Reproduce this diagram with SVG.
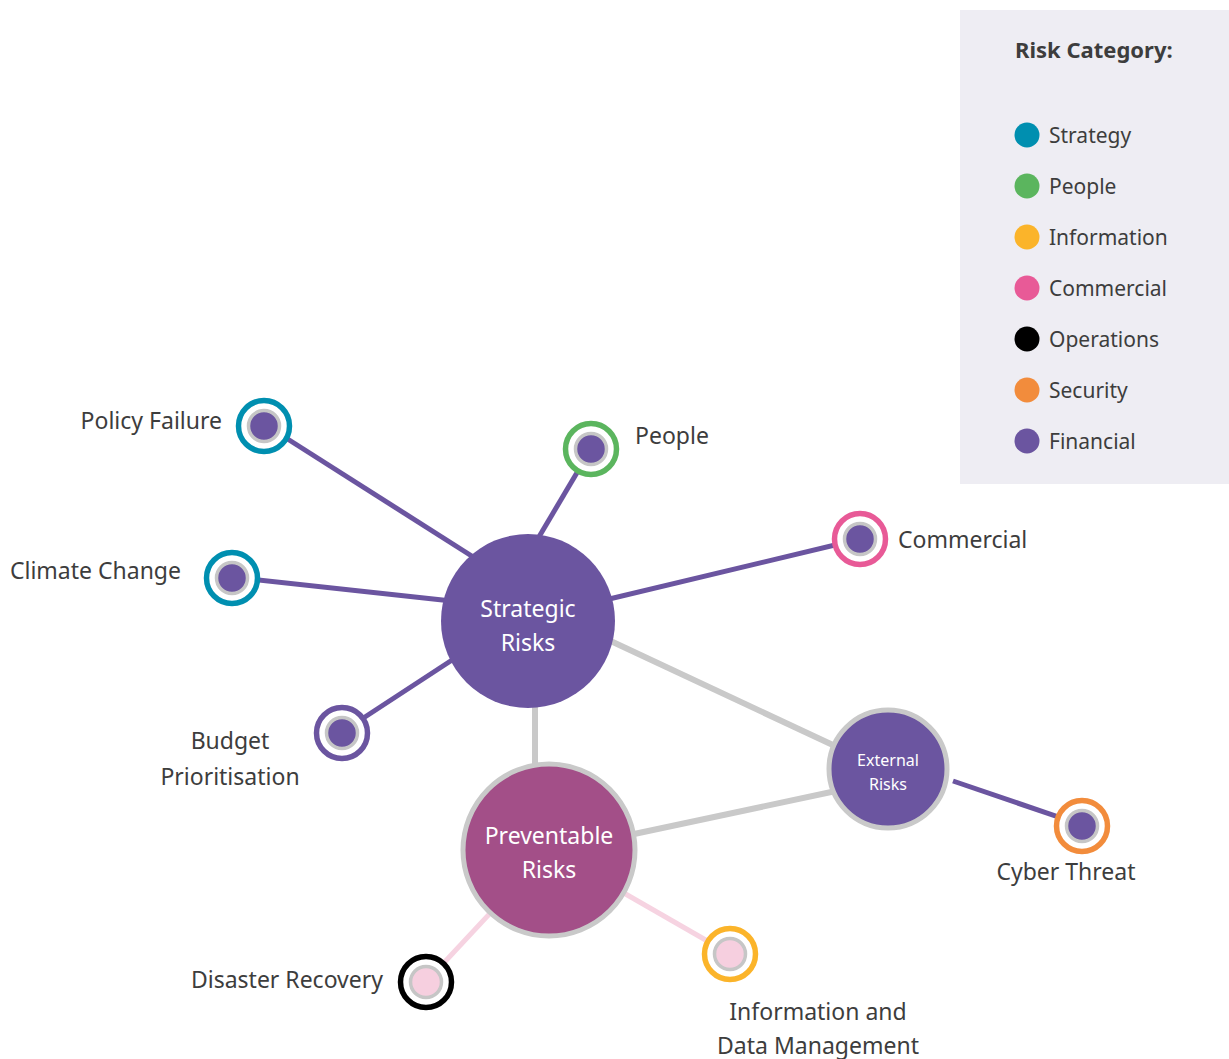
<svg xmlns="http://www.w3.org/2000/svg" width="1229" height="1059" viewBox="0 0 1229 1059">
<style>
text{font-family:"Noto Sans","Open Sans","Liberation Sans",sans-serif;fill:#3d3d3d;font-size:23px}
.lt{font-size:21px}
.w{fill:#ffffff}
.c{text-anchor:middle}
.e{text-anchor:end}
.lp{stroke:#6b55a0;stroke-width:5;stroke-linecap:butt;fill:none}
.lg{stroke:#c9c9c9;stroke-width:6;fill:none}
.lk{stroke:#f6d3e1;stroke-width:5;fill:none}
.ring{fill:#ffffff;stroke-width:5.5}
.core{stroke:#c6c6c6;stroke-width:3.5}
.fp{fill:#6b55a0}
.fk{fill:#f6cfdf}
</style>
<rect x="960" y="10" width="269" height="474" fill="#eeedf3"/>
<g id="legend">
<text x="1015" y="58" style="font-weight:bold;font-size:22px">Risk Category:</text>
<circle cx="1027" cy="135" r="12.5" fill="#008fb0"/><text class="lt" x="1049" y="143">Strategy</text>
<circle cx="1027" cy="186" r="12.5" fill="#5bb55e"/><text class="lt" x="1049" y="194">People</text>
<circle cx="1027" cy="237" r="12.5" fill="#fbb42a"/><text class="lt" x="1049" y="245">Information</text>
<circle cx="1027" cy="288" r="12.5" fill="#e85a97"/><text class="lt" x="1049" y="296">Commercial</text>
<circle cx="1027" cy="339" r="12.5" fill="#000000"/><text class="lt" x="1049" y="347">Operations</text>
<circle cx="1027" cy="390" r="12.5" fill="#f28c3c"/><text class="lt" x="1049" y="398">Security</text>
<circle cx="1027" cy="441" r="12.5" fill="#6b55a0"/><text class="lt" x="1049" y="449">Financial</text>
</g>
<g id="connectors">
<line class="lp" x1="500" y1="574" x2="264" y2="424"/>
<line class="lp" x1="530" y1="552" x2="591" y2="449"/>
<line class="lp" x1="580" y1="606" x2="860" y2="539"/>
<line class="lp" x1="470" y1="603" x2="232" y2="577"/>
<line class="lp" x1="475" y1="645" x2="342" y2="732"/>
<line class="lg" x1="600" y1="636" x2="850" y2="753"/>
<line class="lg" x1="535" y1="700" x2="535" y2="775"/>
<line class="lg" x1="620" y1="837" x2="850" y2="788"/>
<line class="lp" x1="953" y1="781" x2="1082" y2="825"/>
<line class="lk" x1="549" y1="850" x2="426" y2="982"/>
<line class="lk" x1="549" y1="850" x2="730" y2="954"/>
</g>
<g id="strategic-risks">
<circle cx="528" cy="621" r="87" fill="#6b55a0"/>
<text class="w c" x="528" y="617">Strategic</text>
<text class="w c" x="528" y="651">Risks</text>
</g>
<g id="preventable-risks">
<circle cx="549" cy="850" r="86" fill="#a34f88" stroke="#c9c9c9" stroke-width="5"/>
<text class="w c" x="549" y="844">Preventable</text>
<text class="w c" x="549" y="878">Risks</text>
</g>
<g id="external-risks">
<circle cx="888" cy="769" r="59" fill="#6b55a0" stroke="#c9c9c9" stroke-width="5"/>
<text class="w c" x="888" y="766" style="font-size:16px">External</text>
<text class="w c" x="888" y="790" style="font-size:16px">Risks</text>
</g>
<g id="policy-failure">
<circle class="ring" cx="264" cy="426" r="25.5" stroke="#008fb0"/>
<circle class="core fp" cx="264" cy="426" r="15.5"/>
<text class="e" x="222" y="429">Policy Failure</text>
</g>
<g id="people">
<circle class="ring" cx="591" cy="449" r="25.5" stroke="#5bb55e"/>
<circle class="core fp" cx="591" cy="449" r="15.5"/>
<text x="635" y="444">People</text>
</g>
<g id="commercial">
<circle class="ring" cx="860" cy="539" r="25.5" stroke="#e85a97"/>
<circle class="core fp" cx="860" cy="539" r="15.5"/>
<text x="898" y="548">Commercial</text>
</g>
<g id="climate-change">
<circle class="ring" cx="232" cy="578" r="25.5" stroke="#008fb0"/>
<circle class="core fp" cx="232" cy="578" r="15.5"/>
<text class="e" x="181" y="579">Climate Change</text>
</g>
<g id="budget-prioritisation">
<circle class="ring" cx="342" cy="733" r="25.5" stroke="#6b55a0"/>
<circle class="core fp" cx="342" cy="733" r="15.5"/>
<text class="c" x="230" y="749">Budget</text>
<text class="c" x="230" y="785">Prioritisation</text>
</g>
<g id="cyber-threat">
<circle class="ring" cx="1082" cy="826" r="25.5" stroke="#f28c3c"/>
<circle class="core fp" cx="1082" cy="826" r="15.5"/>
<text class="c" x="1066" y="880">Cyber Threat</text>
</g>
<g id="disaster-recovery">
<circle class="ring" cx="426" cy="982" r="25.5" stroke="#000000"/>
<circle class="core fk" cx="426" cy="982" r="15.5"/>
<text class="e" x="383" y="988">Disaster Recovery</text>
</g>
<g id="information-data-management">
<circle class="ring" cx="730" cy="954" r="25.5" stroke="#fbb42a"/>
<circle class="core fk" cx="730" cy="954" r="15.5"/>
<text class="c" x="818" y="1020">Information and</text>
<text class="c" x="818" y="1054">Data Management</text>
</g>
</svg>
